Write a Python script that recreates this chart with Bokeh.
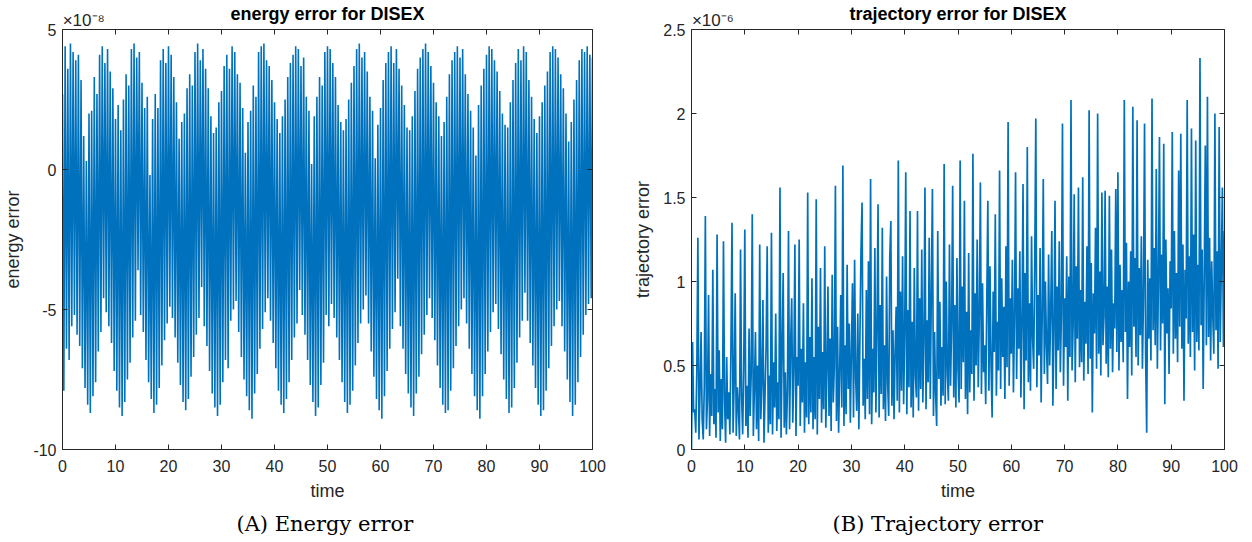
import numpy as np
from bokeh.plotting import figure
from bokeh.models import LinearAxis, Range1d, FixedTicker, Title
from bokeh.layouts import row
from bokeh.embed import file_html
from bokeh.resources import INLINE

# ---------------- data ----------------
# energy error (x 1e-8): successive local maxima and minima, sampled every 0.25 time units
energy_peaks = [
    2.7, 4.4, 3.6, 4.5, 4.2, 3.9, 4.1, 3.2, 1.2,
    0.3, 2.0, 2.1, 3.3, 2.7, 4.1, 4.4, 3.8, 4.3, 3.5, 2.9, 1.8,
    2.3, 1.4, 2.5, 3.4, 3.0, 4.3, 4.5, 4.0, 4.2, 3.1, 2.2, 2.6, -0.2,
    1.8, 2.7, 2.2, 3.9, 4.3, 3.8, 4.4, 4.1, 3.3, 2.4, 1.1, 1.7,
    2.0, 2.9, 3.4, 3.0, 4.2, 4.5, 3.9, 4.3, 3.6, 2.9, 1.9, 1.3,
    1.5, 2.4, 2.8, 3.7, 4.1, 3.6, 4.4, 4.2, 3.4, 3.1, 2.2, 0.6,
    1.7, 2.1, 3.0, 2.6, 4.2, 4.4, 4.5, 3.9, 3.7, 3.2, 2.4, 1.8,
    1.3, 1.9, 2.5, 3.3, 3.8, 4.1, 4.4, 4.3, 3.7, 4.0, 2.6, 2.1, 0.2,
    1.9, 2.6, 3.3, 3.0, 4.2, 4.4, 4.3, 3.8, 3.3, 2.3, 1.7, 1.4,
    1.8, 2.5, 3.1, 3.7, 4.3, 4.5, 4.0, 4.2, 3.5, 2.6, 2.1, 0.4,
    1.6, 2.2, 3.2, 3.8, 4.2, 4.4, 3.8, 4.3, 3.6, 3.0, 2.3, 1.5,
    1.4, 1.9, 2.8, 3.6, 4.0, 4.3, 4.5, 4.2, 3.7, 3.1, 2.4, 1.9,
    1.2, 1.7, 2.6, 3.4, 3.9, 4.2, 4.4, 4.0, 4.3, 3.4, 2.7, 2.1, 1.5,
    0.5, 2.3, 3.0, 3.6, 4.1, 4.4, 4.3, 3.9, 3.5, 2.8, 2.0, 1.6,
    1.5, 2.4, 3.2, 3.8, 4.3, 3.9, 4.4, 4.2, 3.2, 2.6, 1.8, 1.3,
    1.9, 2.4, 3.0, 3.5, 4.2, 4.4, 4.3, 4.0, 3.4, 2.9, 2.0, 1.0,
    1.7, 2.5, 3.2, 3.9, 4.3, 4.2, 4.4, 4.1, 4.0,
]
energy_troughs = [
    -7.9, -6.4, -6.8, -5.6, -5.2, -5.9, -6.3, -7.1, -7.8,
    -8.4, -8.7, -8.1, -7.6, -6.5, -5.8, -4.6, -5.1, -5.6, -6.2, -7.2, -7.9,
    -8.5, -8.8, -8.3, -7.5, -6.9, -6.0, -5.4, -3.6, -5.2, -5.8, -6.8, -7.6, -8.2,
    -8.7, -8.4, -7.8, -7.0, -6.1, -5.5, -4.9, -5.3, -6.0, -6.9, -7.7, -8.3,
    -8.6, -8.2, -7.4, -6.7, -5.9, -5.3, -4.2, -5.6, -6.3, -7.2, -8.0, -8.5,
    -8.8, -8.4, -7.6, -6.8, -7.1, -5.4, -5.0, -4.7, -5.8, -6.7, -7.5, -8.1,
    -8.6, -8.9, -8.0, -7.3, -6.4, -5.7, -5.1, -4.6, -5.4, -6.2, -7.1, -7.9,
    -8.4, -8.7, -8.2, -7.6, -6.8, -6.0, -5.5, -4.3, -5.2, -5.9, -6.8, -7.7, -8.3,
    -8.8, -8.5, -7.7, -6.9, -5.2, -5.6, -4.8, -5.3, -6.0, -6.8, -7.6, -8.3,
    -8.7, -8.4, -7.9, -7.0, -6.2, -5.5, -5.0, -4.5, -5.5, -6.5, -7.4, -8.2,
    -8.6, -8.9, -8.1, -7.2, -6.4, -5.7, -5.1, -3.9, -5.6, -6.4, -7.3, -8.0,
    -8.5, -8.8, -8.0, -7.4, -6.6, -5.9, -5.2, -4.6, -5.3, -6.1, -7.0, -7.8,
    -8.4, -8.7, -8.6, -7.9, -7.1, -6.3, -5.6, -5.0, -4.6, -5.5, -6.4, -7.3, -8.1,
    -8.6, -8.9, -8.1, -7.3, -6.5, -5.8, -5.1, -4.8, -5.7, -6.6, -7.5, -8.2,
    -8.7, -8.5, -7.8, -6.9, -6.0, -5.4, -4.4, -5.4, -6.2, -7.0, -7.8, -8.4,
    -8.8, -8.6, -7.9, -7.1, -6.3, -5.6, -5.0, -4.7, -5.6, -6.5, -7.5, -8.3,
    -8.8, -8.4, -7.6, -6.7, -5.9, -5.2, -4.8, -4.6,
]
energy_step = 0.25

# trajectory error (x 1e-6), sampled every 0.2 time units
trajectory_err = [
    0.00, 0.64, 0.22, 0.24, 0.10,  0.48, 1.26, 0.06, 0.35, 0.70,
    0.18, 0.06, 0.38, 1.39, 0.12,  0.30, 0.92, 0.08, 0.45, 0.20,
    1.07, 0.15, 0.36, 0.07, 1.28,  0.22, 0.59, 0.05, 0.42, 0.12,
    1.24, 0.30, 0.04, 0.55, 0.18,  0.34, 0.09, 0.60, 1.35, 0.10,
    0.40, 0.93, 0.08, 0.37, 0.25,  0.06, 1.19, 0.32, 0.09, 0.48,
    1.31, 0.14, 0.38, 0.07, 0.72,  0.20, 0.45, 1.40, 0.08, 0.36,
    0.70, 0.12, 0.50, 0.05, 1.22,  0.18, 0.40, 0.89, 0.04, 0.33,
    0.62, 1.21, 0.10, 0.44, 0.15,  1.29, 0.09, 0.52, 0.25, 0.81,
    0.11, 0.40, 0.18, 1.56, 0.07,  0.58, 1.05, 0.13, 0.46, 0.09,
    0.35, 1.30, 0.12, 0.62, 0.90,  0.16, 0.48, 1.22, 0.08, 0.55,
    0.38, 1.25, 0.14, 0.60, 0.28,  0.87, 0.10, 0.52, 0.19, 1.53,
    0.15, 0.67, 0.22, 1.02, 0.12,  0.55, 0.18, 1.49, 0.09, 0.73,
    0.30, 1.08, 0.16, 0.58, 0.24,  1.21, 0.13, 0.47, 0.97, 0.20,
    0.66, 0.11, 1.04, 0.28, 0.50,  1.57, 0.17, 0.73, 0.10, 0.45,
    0.92, 0.25, 1.69, 0.14, 0.62,  0.21, 1.10, 0.36, 0.75, 0.16,
    0.58, 0.99, 0.19, 1.13, 0.42,  0.23, 0.81, 0.12, 0.67, 1.18,
    1.47, 0.26, 0.54, 0.18, 0.95,  0.30, 1.12, 0.21, 1.61, 0.15,
    0.60, 0.34, 1.20, 0.22, 0.72,  1.46, 0.19, 0.86, 0.33, 1.32,
    0.24, 0.62, 0.17, 1.03, 0.40,  0.20, 1.14, 1.36, 0.26, 0.71,
    0.18, 0.58, 0.85, 0.29, 1.72,  0.22, 0.94, 0.35, 1.15, 0.27,
    0.68, 1.65, 0.21, 0.83, 0.37,  1.42, 0.25, 0.76, 0.19, 1.08,
    0.44, 0.31, 1.42, 0.23, 0.90,  0.36, 1.19, 0.28, 0.64, 1.56,
    0.24, 0.77, 0.40, 1.26, 0.30,  0.95, 1.55, 0.20, 0.70, 0.33,
    0.14, 1.30, 0.42, 0.88, 0.26,  0.61, 0.32, 1.70, 0.27, 1.00,
    0.45, 0.29, 1.22, 0.38, 0.74,  1.57, 0.31, 0.86, 0.25, 1.14,
    0.48, 0.28, 1.72, 0.36, 0.97,  0.52, 1.48, 0.30, 0.82, 0.21,
    1.17, 0.34, 0.71, 0.45, 1.76,  0.29, 0.93, 0.50, 1.25, 0.37,
    0.80, 1.59, 0.33, 0.99, 0.46,  0.62, 0.27, 0.88, 1.48, 0.35,
    1.09, 0.51, 0.19, 0.94, 0.58,  1.40, 0.32, 0.76, 0.47, 1.66,
    0.36, 1.02, 0.55, 0.85, 0.30,  1.21, 0.49, 1.95, 0.38, 0.90,
    0.57, 1.13, 0.34, 0.78, 1.65,  0.42, 0.96, 0.60, 1.18, 0.31,
    0.73, 1.58, 0.24, 1.05, 0.53,  1.80, 0.40, 0.87, 0.35, 1.27,
    0.66, 0.48, 1.12, 1.97, 0.37,  0.92, 0.56, 1.20, 0.28, 0.81,
    1.61, 0.45, 1.00, 0.62, 0.39,  1.16, 0.50, 0.83, 1.30, 0.26,
    0.70, 1.48, 0.36, 0.97, 0.59,  1.24, 0.46, 0.81, 1.94, 0.38,
    0.90, 0.61, 1.15, 0.29, 1.03,  0.55, 2.08, 0.47, 0.74, 1.52,
    0.40, 1.09, 0.66, 1.56, 0.49,  0.95, 0.52, 1.62, 0.41, 0.88,
    0.63, 1.21, 0.45, 2.02, 0.54,  1.11, 0.22, 0.93, 0.69, 1.32,
    0.48, 2.00, 0.57, 1.06, 0.44,  1.53, 0.62, 0.80, 1.54, 0.51,
    0.97, 0.43, 1.51, 0.60, 1.19,  0.46, 0.87, 0.72, 1.55, 0.58,
    1.65, 0.47, 1.10, 0.64, 0.95,  0.52, 2.08, 0.70, 1.23, 0.30,
    1.00, 0.61, 1.18, 0.44, 2.04,  0.73, 1.14, 0.55, 1.96, 0.50,
    1.08, 0.68, 1.27, 0.48, 0.91,  1.94, 0.57, 0.10, 1.13, 0.66,
    1.02, 0.53, 2.09, 0.71, 1.20,  0.62, 1.67, 0.48, 0.99, 1.86,
    0.59, 1.16, 0.75, 1.82, 0.27,  1.25, 0.69, 0.96, 0.45, 1.12,
    0.84, 1.89, 0.57, 1.30, 0.66,  1.05, 0.52, 1.66, 0.73, 1.88,
    0.60, 1.22, 0.29, 1.07, 0.78,  2.08, 0.63, 1.15, 0.55, 1.91,
    0.70, 1.28, 0.47, 1.84, 0.64,  1.10, 0.59, 2.33, 0.74, 1.19,
    0.36, 1.04, 1.81, 0.62, 2.10,  0.67, 1.26, 0.53, 1.12, 0.80,
    0.57, 2.00, 0.71, 1.18, 0.48,  1.92, 0.64, 1.08, 1.56, 0.61,
    1.30,
]
trajectory_step = 0.2

time_ticks = [0, 10, 20, 30, 40, 50, 60, 70, 80, 90, 100]
energy_ticks = [-10, -5, 0, 5]
energy_tick_labels = ["-10", "-5", "0", "5"]
traj_ticks = [0, 0.5, 1, 1.5, 2, 2.5]
traj_tick_labels = ["0", "0.5", "1", "1.5", "2", "2.5"]

# ---------------- build series ----------------
energy_vals = []
for i, pk in enumerate(energy_peaks):
    energy_vals.append(pk)
    if i < len(energy_troughs):
        energy_vals.append(energy_troughs[i])
energy_time = np.arange(len(energy_vals)) * energy_step
traj_time = np.arange(len(trajectory_err)) * trajectory_step

AX = "#262626"
BLUE = "#0072BD"
SANS = "Liberation Sans"
SERIF = "DejaVu Serif"


def style_axes(p, yticks, ylabels, title, exponent, caption, caption_offset):
    p.xgrid.visible = False
    p.ygrid.visible = False
    p.outline_line_color = None
    p.background_fill_color = "white"
    p.border_fill_color = "white"
    xa = p.xaxis[0]
    ya = p.yaxis[0]
    xa.ticker = FixedTicker(ticks=time_ticks)
    ya.ticker = FixedTicker(ticks=yticks)
    ya.major_label_overrides = {t: l for t, l in zip(yticks, ylabels)}
    for ax in (xa, ya):
        ax.axis_line_color = AX
        ax.major_tick_line_color = AX
        ax.major_tick_in = 5
        ax.major_tick_out = 0
        ax.minor_tick_line_color = None
        ax.major_label_text_color = AX
        ax.major_label_text_font = SANS
        ax.major_label_text_font_size = "16px"
        ax.axis_label_text_font = SANS
        ax.axis_label_text_font_size = "18px"
        ax.axis_label_text_font_style = "normal"
        ax.axis_label_text_color = AX
    xa.major_label_standoff = 10
    xa.axis_label_standoff = 6
    ya.major_label_standoff = 6
    ya.axis_label_standoff = 7

    # top axis: inward minor ticks only, the exponent as its one label, the title as its axis label
    top = LinearAxis(ticker=FixedTicker(ticks=[4], minor_ticks=time_ticks),
                     major_label_overrides={4: exponent},
                     major_tick_line_color=None, major_tick_in=0, major_tick_out=0,
                     minor_tick_line_color=AX, minor_tick_in=5, minor_tick_out=0,
                     axis_line_color=AX,
                     major_label_text_font=SANS, major_label_text_font_size="17px",
                     major_label_text_color=AX, major_label_standoff=0,
                     axis_label=title, axis_label_text_font=SANS,
                     axis_label_text_font_size="18px", axis_label_text_font_style="bold",
                     axis_label_text_color="black", axis_label_standoff=-16)
    right = LinearAxis(ticker=FixedTicker(ticks=[], minor_ticks=yticks),
                       major_tick_line_color=None, major_tick_in=0, major_tick_out=0,
                       minor_tick_line_color=AX, minor_tick_in=5, minor_tick_out=0,
                       axis_line_color=AX)
    p.add_layout(top, "above")
    p.add_layout(right, "right")

    cap = Title(text=caption, align="left", offset=caption_offset, vertical_align="bottom",
                text_font=SERIF, text_font_size="21px", text_font_style="normal",
                text_color="black", standoff=12)
    p.add_layout(cap, "below")


# ---------------- left panel ----------------
p1 = figure(width=626, height=542, x_range=Range1d(0, 100), y_range=Range1d(-10, 5),
            output_backend="svg", toolbar_location=None,
            min_border_left=59, min_border_right=34, min_border_top=28, min_border_bottom=93,
            x_axis_label="time", y_axis_label="energy error")
p1.line(energy_time, energy_vals, line_color=BLUE, line_width=1.6)
style_axes(p1, energy_ticks, energy_tick_labels, "energy error for DISEX",
           "\u00d710\u207b\u2078", "(A) Energy error", 174)

# ---------------- right panel ----------------
p2 = figure(width=626, height=542, x_range=Range1d(0, 100), y_range=Range1d(0, 2.5),
            output_backend="svg", toolbar_location=None,
            min_border_left=65, min_border_right=28, min_border_top=28, min_border_bottom=93,
            x_axis_label="time", y_axis_label="trajectory error")
p2.line(traj_time, trajectory_err, line_color=BLUE, line_width=1.7)
style_axes(p2, traj_ticks, traj_tick_labels, "trajectory error for DISEX",
           "\u00d710\u207b\u2076", "(B) Trajectory error", 141)

layout = row(p1, p2)
open("out.html", "w").write(file_html(layout, INLINE))
